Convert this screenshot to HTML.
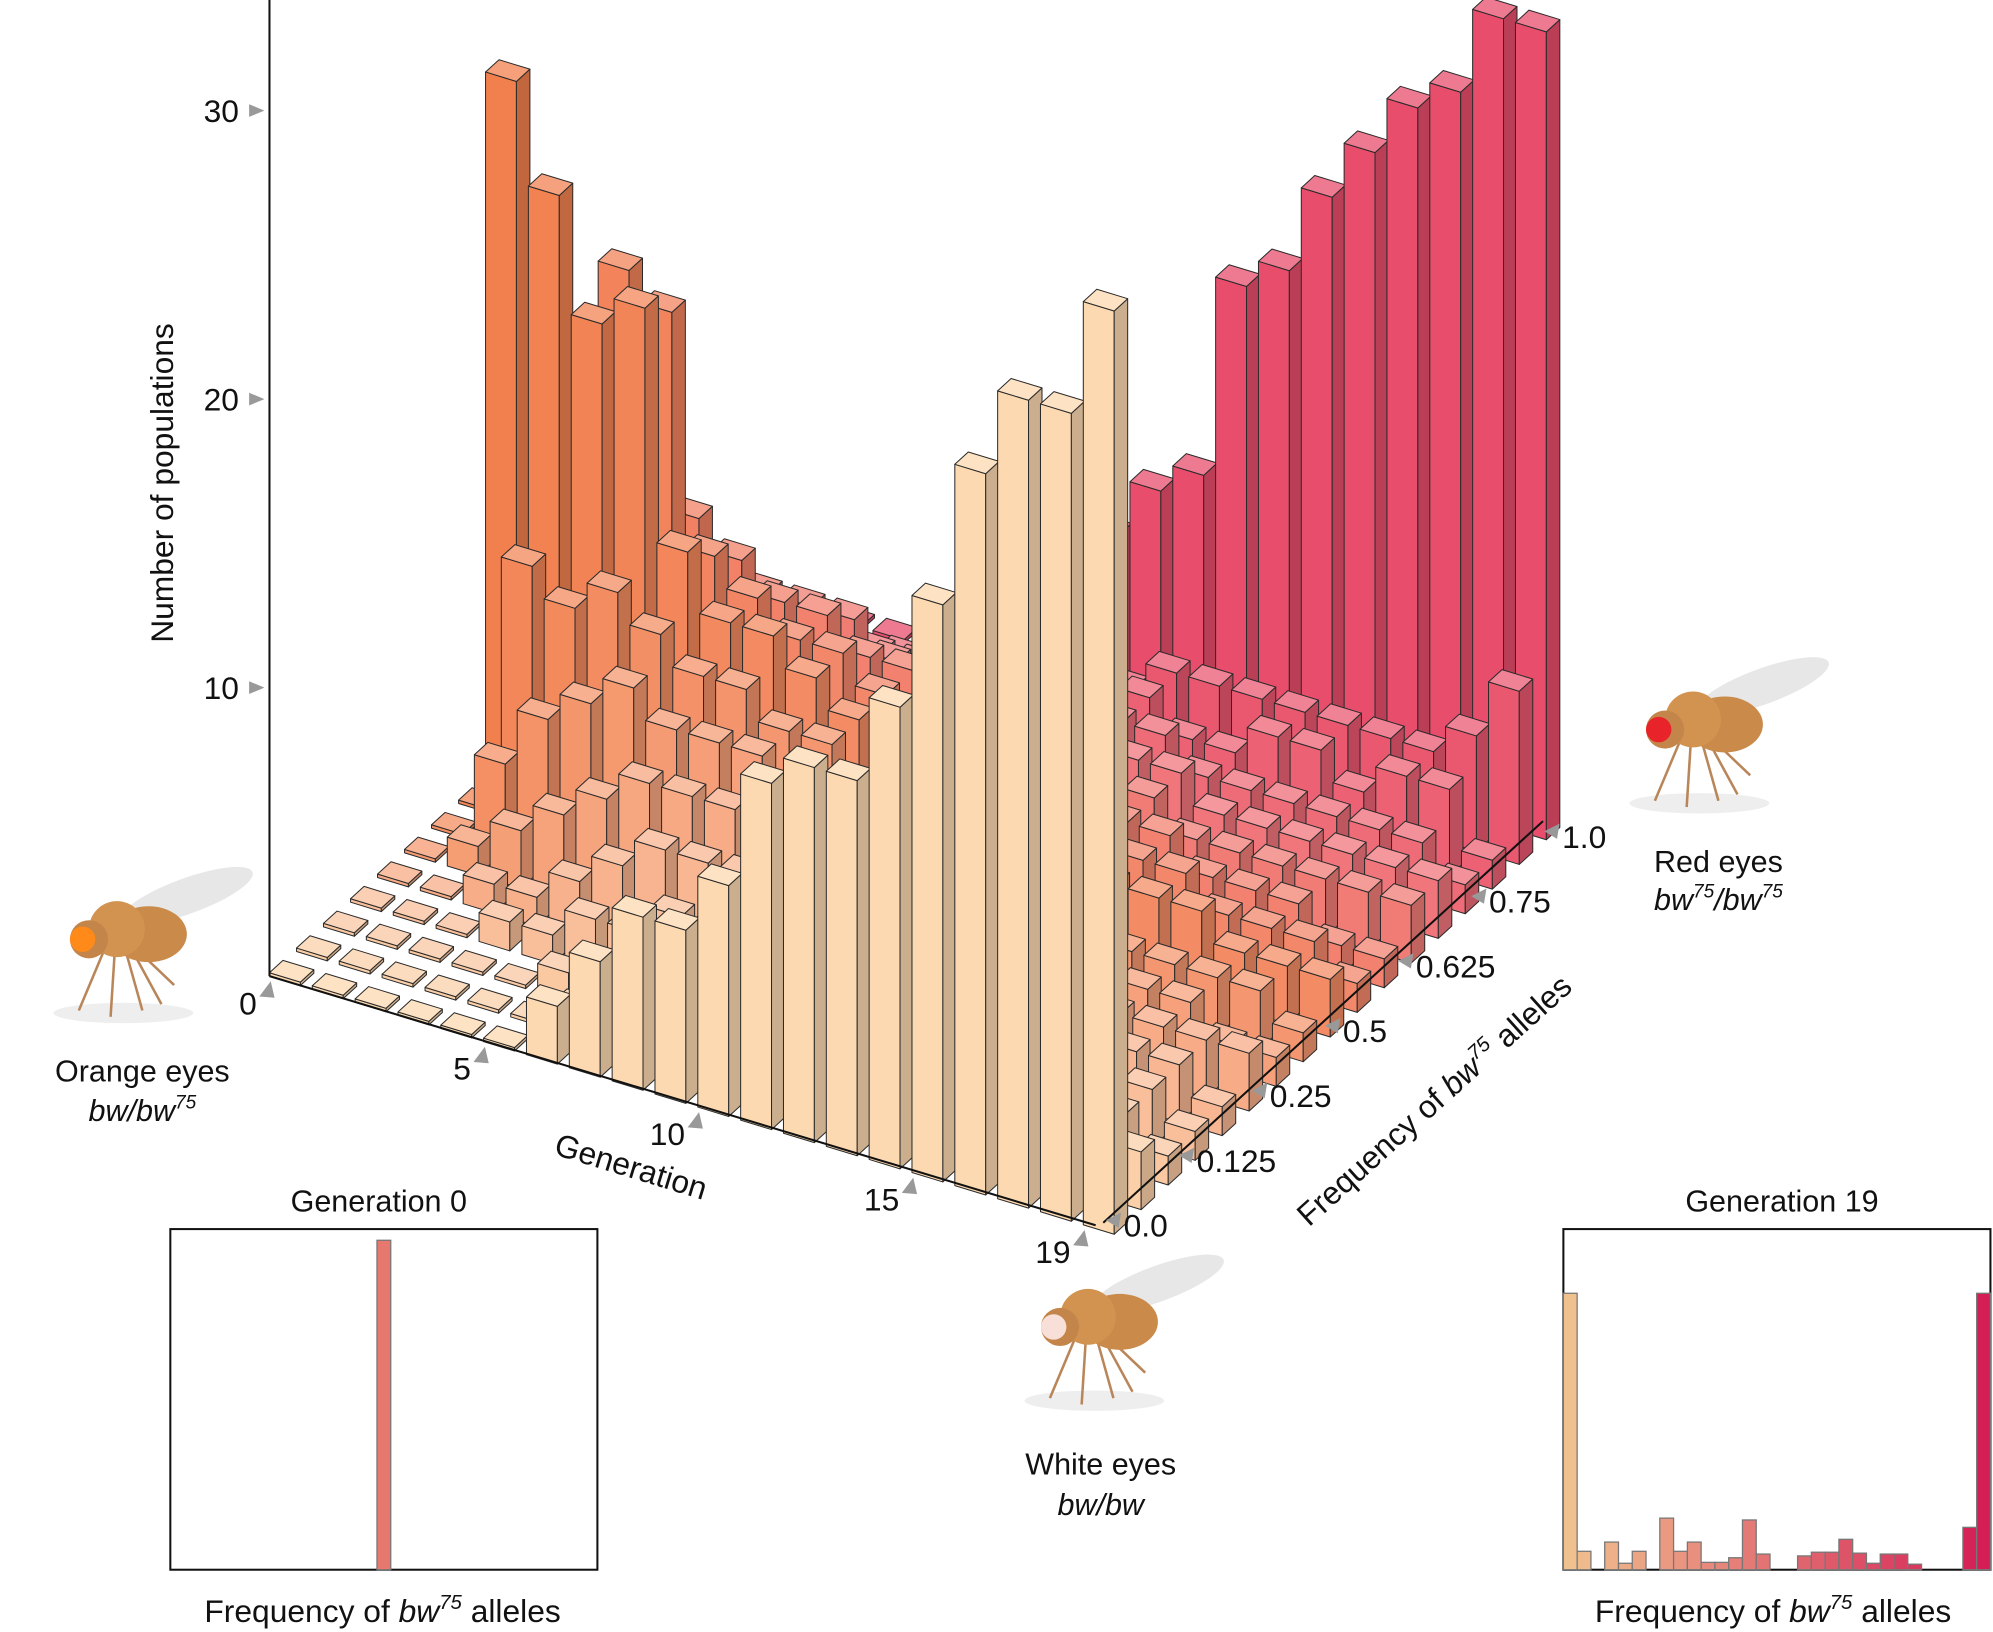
<!DOCTYPE html>
<html><head><meta charset="utf-8"><style>
html,body{margin:0;padding:0;background:#fff}
svg{display:block}
text{font-family:"Liberation Sans",sans-serif;fill:#111}
</style></head><body>
<svg id="chart" xmlns="http://www.w3.org/2000/svg" width="1993" height="1632" viewBox="0 0 1568 1284">
<g id="flies"></g>
<g id="bars3d"></g>
<line x1="212" y1="0" x2="212" y2="768" stroke="#111" stroke-width="1.6"/>
<line x1="212" y1="768" x2="862" y2="964" stroke="#111" stroke-width="1.6"/>
<line x1="868" y1="962" x2="1214" y2="646" stroke="#111" stroke-width="1.6"/>
<g id="axes"></g>
<text x="0" y="0" font-size="25" text-anchor="middle" transform="translate(136,380) rotate(-90)">Number of populations</text>
<text x="0" y="0" font-size="25" text-anchor="middle" transform="translate(494,926) rotate(17)">Generation</text>
<text x="0" y="0" font-size="25" text-anchor="middle" transform="translate(1134,872) rotate(-42)">Frequency of <tspan font-style="italic">bw</tspan><tspan font-style="italic" font-size="16" dy="-10">75</tspan><tspan dy="10"> alleles</tspan></text>
<text x="112" y="851" font-size="24" text-anchor="middle">Orange eyes</text>
<text x="112" y="882" font-size="24" text-anchor="middle" font-style="italic">bw/bw<tspan font-size="15" dy="-10">75</tspan></text>
<text x="1352" y="686" font-size="24" text-anchor="middle">Red eyes</text>
<text x="1352" y="716" font-size="24" text-anchor="middle" font-style="italic">bw<tspan font-size="15" dy="-10">75</tspan><tspan dy="10">/bw</tspan><tspan font-size="15" dy="-10">75</tspan></text>
<text x="866" y="1160" font-size="24" text-anchor="middle">White eyes</text>
<text x="866" y="1192" font-size="24" text-anchor="middle" font-style="italic">bw/bw</text>
<text x="298" y="953" font-size="24" text-anchor="middle">Generation 0</text>
<text x="1402" y="953" font-size="24" text-anchor="middle">Generation 19</text>
<rect x="134" y="967" width="336" height="268" fill="none" stroke="#111" stroke-width="1.6"/>
<rect x="1230" y="967" width="336" height="268" fill="none" stroke="#111" stroke-width="1.6"/>
<g id="inset0"></g><g id="inset19"></g>
<text x="301" y="1276" font-size="25" text-anchor="middle">Frequency of <tspan font-style="italic">bw</tspan><tspan font-style="italic" font-size="16" dy="-10">75</tspan><tspan dy="10"> alleles</tspan></text>
<text x="1395" y="1276" font-size="25" text-anchor="middle">Frequency of <tspan font-style="italic">bw</tspan><tspan font-style="italic" font-size="16" dy="-10">75</tspan><tspan dy="10"> alleles</tspan></text>
</svg>
<script>
const generations=[0,1,2,3,4,5,6,7,8,9,10,11,12,13,14,15,16,17,18,19];
const freqClasses=[0,1,2,3,4,5,6,7,8,9,10,11,12,13,14,15,16];
const counts=[
[0,0,0,0,0,0,0,0,24.5,0,0,0,0,0,0,0,0],
[0,0,0,0,0,1,3,9,21,12,6,2,0,0,0,0,0],
[0,0,0,0,1,2,5,8,17,18,9,4,1,0,0,0,0],
[0,0,0,1,1,3,6,9,18,17,9,5,2,0,0,0,0],
[0,0,0,1,2,4,7,8,10,9,8,6,3,1,0,0,0],
[0,0,1,2,3,5,6,7,8,8,7,6,4,2,1,0,1],
[2,1,1,2,4,5,6,7,8,7,7,6,4,3,1,1,2],
[4,1,2,3,4,5,6,6,7,7,6,5,4,3,2,1,3],
[6,2,2,3,4,5,5,6,6,6,6,5,4,3,2,2,4],
[6,2,3,3,4,4,5,5,6,5,5,4,4,3,3,2,6],
[8,3,3,3,3,4,4,5,5,5,4,4,3,3,3,2,8],
[12,3,2,3,3,4,4,4,5,4,4,3,3,3,3,3,9],
[13,4,3,3,3,3,4,4,4,4,3,3,3,3,2,3,16],
[13,5,3,3,3,3,3,3,4,3,3,3,3,2,2,3,17],
[16,5,3,2,3,3,3,3,3,3,3,2,2,2,3,3,20],
[20,4,3,2,2,3,3,2,3,3,2,2,2,2,3,3,22],
[25,4,3,2,2,2,2,2,3,2,2,2,2,2,2,3,24],
[28,3,2,2,2,2,2,2,2,2,2,2,2,2,3,3,25],
[28,3,2,2,2,2,1,2,2,2,1,2,2,2,3,4,28],
[32,2,1,1,1,2,1,1,2,1,1,2,2,1,1,6,28]];
const yTicks=[10,20,30];
const genTicks=[0,5,10,15,19];
const freqTickLabels=["0.0","0.125","0.25","0.5","0.625","0.75","1.0"];
const gen0Inset=[0,0,0,0,0,0,0,0,0,0,0,0,0,0,0,36,0,0,0,0,0,0,0,0,0,0,0,0,0,0,0];
const gen19Inset=[30,2,0,3,0.7,2,0,5.6,2,3,0.8,0.8,1.3,5.4,1.7,0,0,1.5,1.9,1.9,3.3,1.8,0.7,1.7,1.7,0.6,0,0,0,4.6,30];

const NS="http://www.w3.org/2000/svg";
function mk(tag,attrs,parent){const e=document.createElementNS(NS,tag);for(const k in attrs)e.setAttribute(k,attrs[k]);parent.appendChild(e);return e;}
const O=[212,768],G=[33.7,10.3],F=[21.25,-19.4],H=22.7;
function proj(g,f,h){return [O[0]+G[0]*g+F[0]*f, O[1]+G[1]*g+F[1]*f-H*h];}
function pts(a){return a.map(p=>p[0].toFixed(1)+","+p[1].toFixed(1)).join(" ");}
function lerp(a,b,t){return a.map((v,i)=>v+(b[i]-v)*t);}
const stops=[[252,217,176],[248,182,146],[243,140,100],[240,118,124],[232,78,108]];
function baseColor(g,f){
  const t=f/16*4;const i=Math.min(3,Math.floor(t));let c=lerp(stops[i],stops[i+1],t-i);
  const w=Math.max(0,1-g/7)*Math.max(0,1-Math.abs(f-8)/5);
  c=lerp(c,[242,128,78],w);return c;}
function rgb(c,k){return "rgb("+c.map(v=>Math.max(0,Math.min(255,Math.round(v*k)))).join(",")+")";}
function rgbLight(c){return "rgb("+c.map(v=>Math.round(v+(255-v)*0.25)).join(",")+")";}

const bars=document.getElementById('bars3d');
const cells=[];
generations.forEach((g,gi)=>freqClasses.forEach((f,fi)=>cells.push([g,f,counts[gi][fi]])));
cells.sort((a,b)=>(a[0]-a[1])-(b[0]-b[1]));
const bw=0.72,bd=0.5;
cells.forEach(([g,f,v])=>{
  const h=v>0?v:0.12;
  const c=baseColor(g,f);
  const grp=mk('g',{},bars);
  
  
  const a0=proj(g,f,0),a1=proj(g+bw,f,0),b1=proj(g+bw,f+bd,0);
  const a0t=proj(g,f,h),a1t=proj(g+bw,f,h),b1t=proj(g+bw,f+bd,h),b0t=proj(g,f+bd,h);
  const st={stroke:"#2a2a2a","stroke-width":0.8,"stroke-linejoin":"round"};
  mk('polygon',Object.assign({points:pts([a0,a1,a1t,a0t]),fill:rgb(c,1)},st),grp);
  mk('polygon',Object.assign({points:pts([a1,b1,b1t,a1t]),fill:rgb(c,0.8)},st),grp);
  mk('polygon',Object.assign({points:pts([a0t,a1t,b1t,b0t]),fill:rgbLight(c)},st),grp);
});

const axes=document.getElementById('axes');
function tri(x,y,dir,parent){
  let p;
  if(dir==='r')p=[[x-12,y-5],[x,y],[x-12,y+5]];
  else if(dir==='u')p=[[x-6,y+8],[x+3,y-4],[x+6,y+9]];
  else p=[[x+12,y-6],[x,y],[x+10,y+6]];
  mk('polygon',{points:pts(p),fill:"#999"},parent);
}
yTicks.forEach(v=>{
  const p=proj(0,0,v);
  const t=mk('text',{x:188,y:p[1]+9,"font-size":25,"text-anchor":"end"},axes);t.textContent=v;
  
  
  tri(208,p[1],'r',axes);
});
genTicks.forEach(g=>{
  const p=proj(g,0,0);
  tri(p[0]-2,p[1]+8,'u',axes);
  const t=mk('text',{x:p[0]-10,y:p[1]+30,"font-size":25,"text-anchor":"end"},axes);t.textContent=g;
  
  
});
freqTickLabels.forEach((s,i)=>{
  const x=870+i*57.5, y=960-i*51;
  tri(x,y,'l',axes);
  const t=mk('text',{x:x+14,y:y+13,"font-size":25},axes);t.textContent=s;
  
  
});

function inset(id,vals,x0,scale,colorA,colorB,nm){
  const gEl=document.getElementById(id);
  const n=vals.length,w=336/n;
  vals.forEach((v,i)=>{
    if(v<=0)return;
    const c=lerp(colorA,colorB,i/(n-1));
    const r=mk('rect',{x:x0+i*w,y:1235-v*scale,width:w,height:v*scale,fill:rgb(c,1),stroke:"#777","stroke-width":1},gEl);
    
    
  });
}
inset('inset0',gen0Inset,134,7.2,[230,120,110],[230,120,110],'gen0');
inset('inset19',gen19Inset,1230,7.25,[240,192,142],[212,30,85],'gen19');

const fl=document.getElementById('flies');
function fly(cx,cy,eye,nm){
  const g=mk('g',{},fl);
  
  
  mk('ellipse',{cx:cx+5,cy:cy+62,rx:55,ry:8,fill:"#eee"},g);
  mk('ellipse',{cx:cx+55,cy:cy-30,rx:55,ry:14,fill:"#ddd","fill-opacity":0.7,transform:"rotate(-20 "+(cx+55)+" "+(cy-30)+")"},g);
  [[-30,60],[-5,65],[20,60],[35,55],[45,40]].forEach(([dx,dy])=>mk('line',{x1:cx+dx*0.3,y1:cy+10,x2:cx+dx,y2:cy+dy,stroke:"#b9865a","stroke-width":2},g));
  mk('ellipse',{cx:cx+25,cy:cy,rx:30,ry:22,fill:"#c98a4a"},g);
  mk('ellipse',{cx:cx,cy:cy-4,rx:22,ry:22,fill:"#d1934f"},g);
  mk('ellipse',{cx:cx-22,cy:cy+4,rx:15,ry:15,fill:"#c4854a"},g);
  mk('circle',{cx:cx-27,cy:cy+4,r:10,fill:eye},g);
}
fly(92,735,"#ff8a1a",'orange-eyed-fly');
fly(1332,570,"#e8232a",'red-eyed-fly');
fly(856,1040,"#f8e0d8",'white-eyed-fly');
</script>
</body></html>
